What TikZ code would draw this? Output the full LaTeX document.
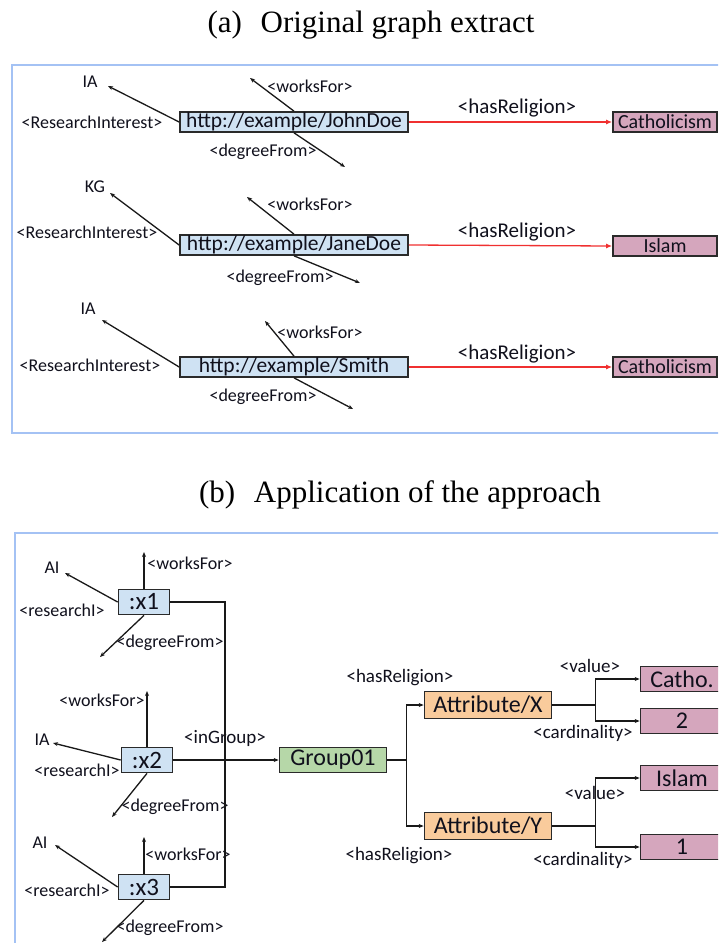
\documentclass[tikz,border=0pt]{standalone}
\usepackage{fontspec}
\setmainfont{Liberation Serif}
\newfontfamily\carl{Carlito}
\usetikzlibrary{arrows.meta,calc}
\definecolor{ublue}{HTML}{CFE2F3}
\definecolor{upink}{HTML}{D5A6BD}
\definecolor{ugreen}{HTML}{B6D7A8}
\definecolor{uorange}{HTML}{F9CB9C}
\definecolor{frame}{HTML}{A4C2F4}
\definecolor{bline}{HTML}{2A2A2A}
\definecolor{txt}{HTML}{10101C}
\definecolor{rline}{HTML}{F03030}
\tikzset{
  lbl/.style={font=\carl\fontsize{18}{18}\selectfont, inner sep=0pt, text=txt},
  lblb/.style={font=\carl\fontsize{19}{19}\selectfont, inner sep=0pt, text=txt},
  rel/.style={font=\carl\fontsize{21}{21}\selectfont, inner sep=0pt, text=txt},
  bx/.style={draw=bline, line width=1.7pt, inner sep=0pt, text=txt},
  ubox/.style={bx, fill=ublue, minimum width=228pt, minimum height=20pt, font=\carl\fontsize{21.5}{21.5}\selectfont},
  pbox/.style={bx, fill=upink, minimum width=104pt, minimum height=20pt, font=\carl\fontsize{20}{20}\selectfont},
  xbox/.style={bx, fill=ublue, minimum width=51pt, minimum height=25pt, font=\carl\fontsize{25}{25}\selectfont},
  gbox/.style={bx, fill=ugreen, minimum width=107pt, minimum height=25pt, font=\carl\fontsize{24}{24}\selectfont},
  obox/.style={bx, fill=uorange, minimum width=127pt, minimum height=27pt, font=\carl\fontsize{24}{24}\selectfont},
  vbox/.style={bx, fill=upink, minimum width=83pt, minimum height=25pt, font=\carl\fontsize{24}{24}\selectfont},
  edge/.style={draw=black!90, line width=1.3pt, -{Stealth[length=5pt,width=4pt]}},
  plain/.style={draw=black!90, line width=1.3pt},
  redge/.style={draw=rline, line width=1.3pt, -{Latex[length=6pt,width=5pt]}},
  ttl/.style={font=\fontsize{31}{31}\selectfont, inner sep=0pt, text=black},
  frm/.style={draw=frame, line width=2pt}
}
\begin{document}
\begin{tikzpicture}[x=1pt,y=-1pt]
\useasboundingbox (0,0) rectangle (718,943);
\clip (0,0) rectangle (718,943);
\fill[white] (0,0) rectangle (718,943);
% titles
\node[ttl] (ta) at (371,25) {(a)\hspace{0.6em}Original graph extract};
\node[ttl] (tb) at (400,495) {(b)\hspace{0.6em}Application of the approach};
% frames
\draw[frm] (12,65) rectangle (740,433);
\draw[frm] (15,533) rectangle (740,965);

% ---------- part (a) ----------
% row 1
\node[ubox] (j1) at (294,122) {http://example/JohnDoe};
\node[pbox] (r1) at (665,122) {Catholicism};
\node[lbl] (ia1) at (90,82) {IA};
\node[lbl] (ri1) at (92,122) {<ResearchInterest>};
\node[lbl] (wf1) at (310,86) {<worksFor>};
\node[lbl] (df1) at (263,152) {<degreeFrom>};
\node[rel] (hr1) at (517,108) {<hasReligion>};
\coordinate (ia1e) at (108,86);
\coordinate (wf1e) at (250,78);
\coordinate (df1e) at (345,167);
\draw[edge] (j1.west) -- (ia1e);
\draw[edge] (j1.north) -- (wf1e);
\draw[edge] (j1.south) -- (df1e);
\draw[redge] (j1.east) -- (r1.west);
% row 2
\node[ubox] (j2) at (294,245) {http://example/JaneDoe};
\node[pbox] (r2) at (665,246) {Islam};
\node[lbl] (kg2) at (95,187) {KG};
\node[lbl] (ri2) at (87,232) {<ResearchInterest>};
\node[lbl] (wf2) at (310,204) {<worksFor>};
\node[lbl] (df2) at (280,278) {<degreeFrom>};
\node[rel] (hr2) at (517,232) {<hasReligion>};
\coordinate (kg2e) at (110,193);
\coordinate (wf2e) at (247,197);
\coordinate (df2e) at (360,283);
\draw[edge] (j2.west) -- (kg2e);
\draw[edge] (j2.north) -- (wf2e);
\draw[edge] (j2.south) -- (df2e);
\draw[redge] (j2.east) -- (r2.west);
% row 3
\node[ubox] (j3) at (294,367) {http://example/Smith};
\node[pbox] (r3) at (665,367) {Catholicism};
\node[lbl] (ia3) at (88,309) {IA};
\node[lbl] (ri3) at (90,365) {<ResearchInterest>};
\node[lbl] (wf3) at (320,332) {<worksFor>};
\node[lbl] (df3) at (263,397) {<degreeFrom>};
\node[rel] (hr3) at (517,354) {<hasReligion>};
\coordinate (ia3e) at (102,320);
\coordinate (wf3e) at (265,321);
\coordinate (df3e) at (353,409);
\draw[edge] (j3.west) -- (ia3e);
\draw[edge] (j3.north) -- (wf3e);
\draw[edge] (j3.south) -- (df3e);
\draw[redge] (j3.east) -- (r3.west);

% ---------- part (b) ----------
\node[xbox] (x1) at (144,602) {:x1};
\node[xbox] (x2) at (147,760) {:x2};
\node[xbox] (x3) at (144,887) {:x3};
% x1
\node[lbl] (bwf1) at (190,563) {<worksFor>};
\node[lbl] (bai1) at (52,568) {AI};
\node[lbl] (bri1) at (62,610) {<researchI>};
\node[lbl] (bdf1) at (170,643) {<degreeFrom>};
\coordinate (bwf1e) at (144,552);
\coordinate (bai1e) at (65,573);
\coordinate (bdf1e) at (100,657);
\draw[edge] (x1.north) -- (bwf1e);
\draw[edge] (x1.west) -- (bai1e);
\draw[edge] (x1.south) -- (bdf1e);
% x2
\node[lbl] (bwf2) at (102,700) {<worksFor>};
\node[lbl] (bia2) at (42,740) {IA};
\node[lbl] (bri2) at (77,770) {<researchI>};
\node[lbl] (bdf2) at (175,807) {<degreeFrom>};
\coordinate (bwf2e) at (147,691);
\coordinate (bia2e) at (53,743);
\coordinate (bdf2e) at (112,817);
\draw[edge] (x2.north) -- (bwf2e);
\draw[edge] (x2.west) -- (bia2e);
\draw[edge] (x2.south) -- (bdf2e);
% x3
\node[lbl] (bwf3) at (188,854) {<worksFor>};
\node[lbl] (bai3) at (40,843) {AI};
\node[lbl] (bri3) at (67,890) {<researchI>};
\node[lbl] (bdf3) at (170,928) {<degreeFrom>};
\coordinate (bwf3e) at (144,837);
\coordinate (bai3e) at (55,845);
\coordinate (bdf3e) at (102,942);
\draw[edge] (x3.north) -- (bwf3e);
\draw[edge] (x3.west) -- (bai3e);
\draw[edge] (x3.south) -- (bdf3e);
% group
\node[gbox] (g) at (333,760) {Group01};
\node[lblb] (ing) at (225,738) {<inGroup>};
\coordinate (busT) at (225,602);
\coordinate (busB) at (225,887);
\draw[plain] (x1.east) -- (busT) -- (busB) -- (x3.east);
\draw[edge] (x2.east) -- (g.west);
% attributes
\node[obox] (ax) at (488,705) {Attribute/X};
\node[obox] (ay) at (488,826) {Attribute/Y};
\node[lblb] (hrx) at (400,678) {<hasReligion>};
\node[lblb] (hry) at (399,856) {<hasReligion>};
\draw[edge] (g.east) -- ++(19,0) |- (ax.west);
\draw[edge] (g.east) -- ++(19,0) |- (ay.west);
% values
\node[vbox] (c1) at (682,679) {Catho.};
\node[vbox] (c2) at (682,721) {2};
\node[vbox] (c3) at (682,778) {Islam};
\node[vbox] (c4) at (682,847) {1};
\node[lblb] (vx) at (590,666) {<value>};
\node[lblb] (cx) at (583,733) {<cardinality>};
\node[lblb] (vy) at (595,793) {<value>};
\node[lblb] (cy) at (583,860) {<cardinality>};
\draw[edge] (ax.east) -- ++(43,0) |- (c1.west);
\draw[edge] (ax.east) -- ++(43,0) |- (c2.west);
\draw[edge] (ay.east) -- ++(43,0) |- (c3.west);
\draw[edge] (ay.east) -- ++(43,0) |- (c4.west);
\end{tikzpicture}
\end{document}
